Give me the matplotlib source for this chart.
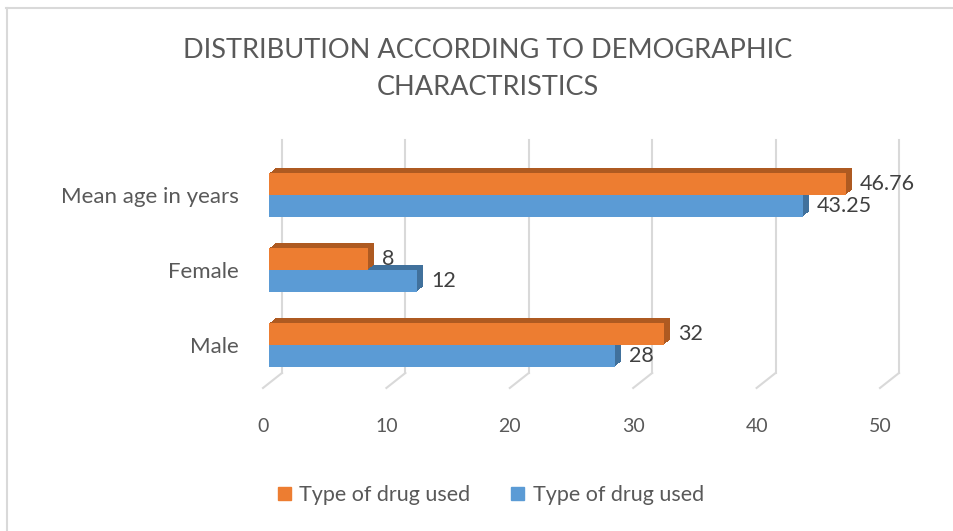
import matplotlib
matplotlib.use('Agg')
import matplotlib.pyplot as plt
from matplotlib import transforms
from matplotlib.lines import Line2D
from matplotlib.patches import Patch

plt.rcParams['font.family'] = ['Lato', 'DejaVu Sans']

categories = ['Male', 'Female', 'Mean age in years']
series_orange = [32, 8, 46.76]
series_blue = [28, 12, 43.25]
series_names = ['Type of drug used', 'Type of drug used']
xticks = [0, 10, 20, 30, 40, 50]

orange = '#ED7D31'
orange_dark = '#AE5A21'
blue = '#5B9BD5'
blue_dark = '#41719C'
grid_col = '#D9D9D9'
txt_col = '#595959'

W, H = 954, 531
fig = plt.figure(figsize=(W / 100, H / 100), dpi=100)
ax = fig.add_axes([269 / W, (H - 390) / H, 617 / W, 250 / H])
ax.set_xlim(0, 50)
ax.set_ylim(-0.6, 2.733)

px_x = 50 / 617   # data units per pixel
px_y = 1 / 75

def shift(dx, dy):
    return transforms.ScaledTranslation(dx / 100, dy / 100, fig.dpi_scale_trans)

# back gridlines + floor diagonals
floor = -0.373
for t in xticks:
    xb = t + 13 * px_x
    ax.plot([xb, xb], [floor, 2.733], color=grid_col, lw=1.5, zorder=1, clip_on=False)
    ax.plot([xb, t - 6 * px_x], [floor, floor - 15 * px_y], color=grid_col, lw=1.5,
            zorder=1, clip_on=False)

y = list(range(len(categories)))
h = 0.29
y_or = [v + h / 2 for v in y]
y_bl = [v - h / 2 for v in y]

# extrusion (top and side faces), blue first so orange front covers it
steps = 6
for vals, ys, dark in [(series_blue, y_bl, blue_dark), (series_orange, y_or, orange_dark)]:
    for k in range(1, steps + 1):
        bars = ax.barh(ys, vals, height=h, color=dark, zorder=2)
        tr = ax.transData + shift(6 * k / steps, 5 * k / steps)
        for b in bars:
            b.set_transform(tr)

ax.barh(y_or, series_orange, height=h, color=orange, zorder=3)
ax.barh(y_bl, series_blue, height=h, color=blue, zorder=3)

# value labels
for vals, ys in [(series_orange, y_or), (series_blue, y_bl)]:
    for v, yy in zip(vals, ys):
        ax.text(v + 14 * px_x, yy, f'{v:g}', va='center', ha='left',
                fontsize=15.5, color='#404040', zorder=4)

ax.set_yticks(y)
ax.set_yticklabels(categories, fontsize=16, color=txt_col)
ax.set_xticks(xticks)
ax.set_xticklabels([str(t) for t in xticks], fontsize=14, color=txt_col)
ax.tick_params(axis='y', length=0, pad=22)
ax.tick_params(axis='x', length=0, pad=20)
for lab in ax.get_xticklabels():
    lab.set_transform(lab.get_transform() + shift(-6, 0))
for s in ax.spines.values():
    s.set_visible(False)

fig.text(0.511, 1 - 69 / H, 'DISTRIBUTION ACCORDING TO DEMOGRAPHIC\nCHARACTRISTICS',
         ha='center', va='center', fontsize=19.5, color=txt_col, linespacing=1.62)

handles = [Patch(color=orange), Patch(color=blue)]
fig.legend(handles, series_names, loc='center', bbox_to_anchor=(491 / W, 1 - 495 / H),
           ncol=2, frameon=False, fontsize=15.5, labelcolor=txt_col,
           handlelength=0.6, handleheight=0.6, handletextpad=0.4, columnspacing=1.9)

# chart border (only top and left visible)
fig.add_artist(Line2D([6 / W, 1], [1 - 8 / H, 1 - 8 / H], transform=fig.transFigure,
                      color=grid_col, lw=1.5))
fig.add_artist(Line2D([7 / W, 7 / W], [0, 1 - 8 / H], transform=fig.transFigure,
                      color=grid_col, lw=1.5))

fig.savefig('out.png', dpi=100)
